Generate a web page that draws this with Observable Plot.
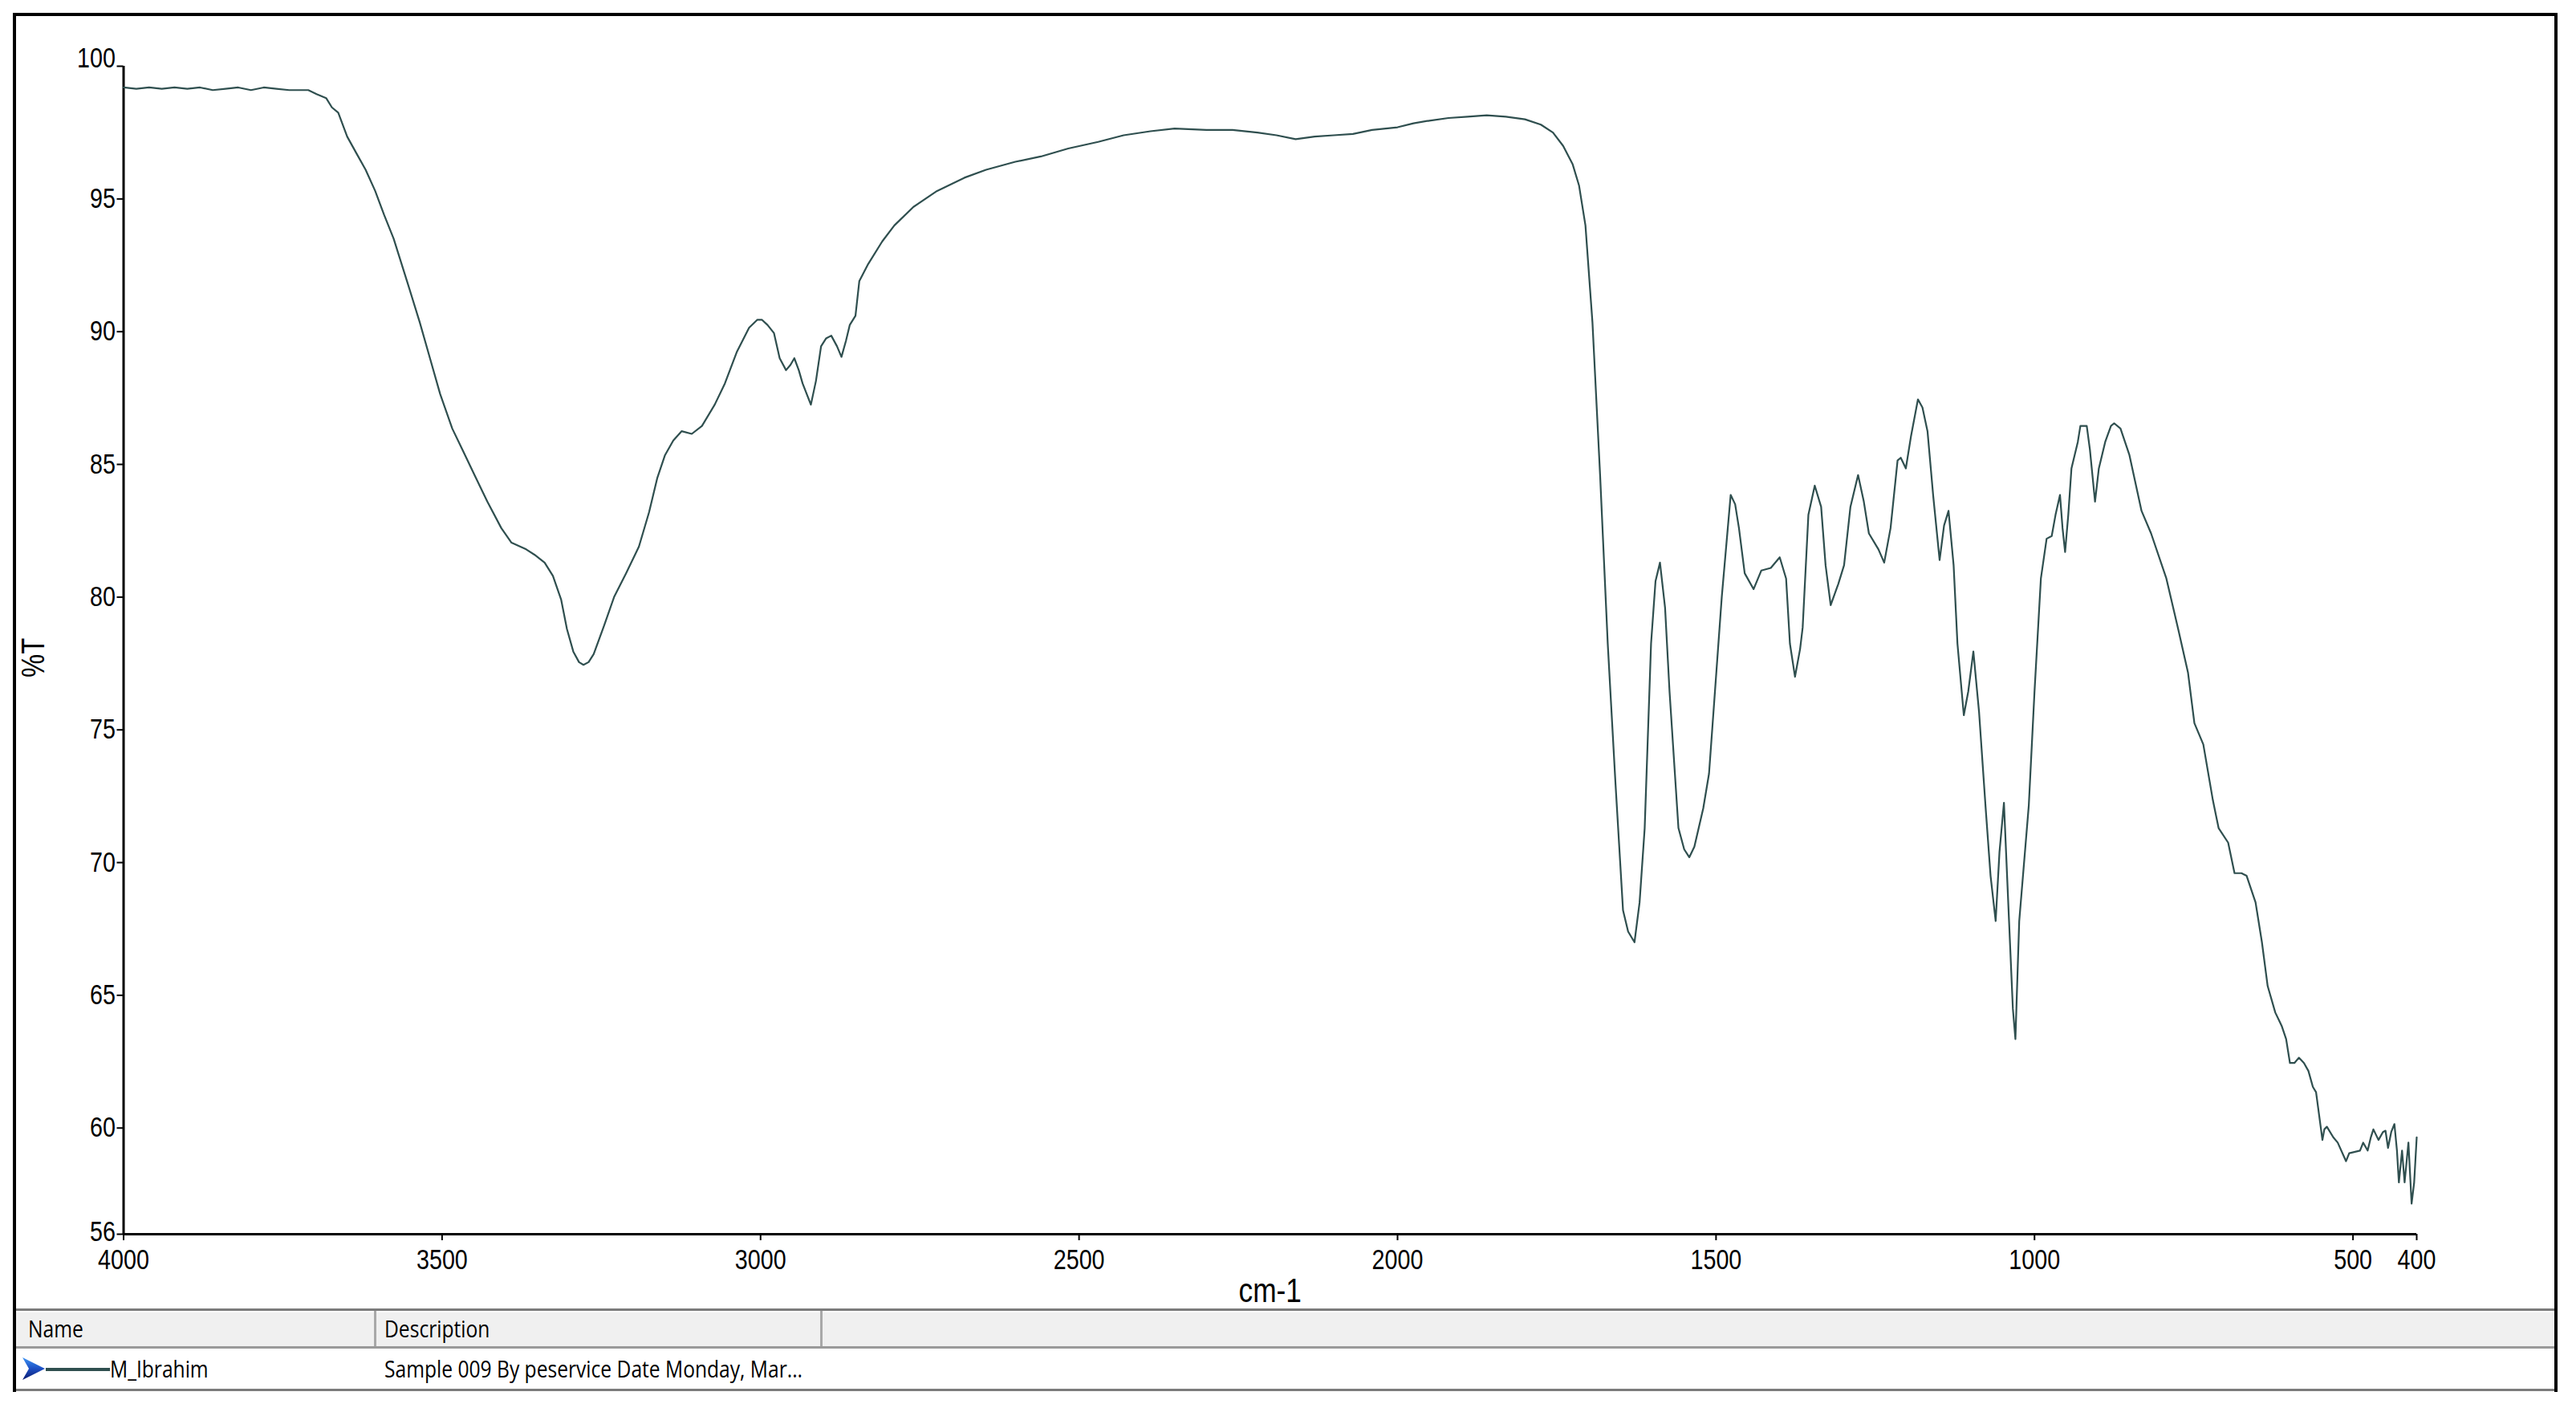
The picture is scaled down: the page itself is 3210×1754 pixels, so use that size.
<!DOCTYPE html>
<html>
<head>
<meta charset="utf-8">
<script src="https://cdn.jsdelivr.net/npm/d3@7"></script>
<script src="https://cdn.jsdelivr.net/npm/@observablehq/plot@0.6"></script>
<style>
  html, body { margin: 0; padding: 0; background: #fff; }
  body { width: 3210px; height: 1754px; position: relative; overflow: hidden; }
  #frame { position: absolute; left: 16px; top: 16px; width: 3171px; height: 1718px;
           border: 4px solid #000; border-bottom: none; box-sizing: border-box; }
  #chart { position: absolute; left: 0; top: 0; }
  #table { position: absolute; left: 0; top: 1610px; width: 3163px; font-family: "Open Sans", "Noto Sans", sans-serif; color: #000; }
  #hdr { position: relative; height: 50px; box-sizing: border-box; background: #f0f0f0;
         border-top: 3px solid #7c7c7c; border-bottom: 3px solid #9a9a9a; box-shadow: inset 0 2px 0 #fafafa; }
  #row { position: relative; height: 53px; box-sizing: border-box; background: #fff; border-bottom: 3px solid #7c7c7c; }
  .cell { position: absolute; top: 50%; font-size: 30px; white-space: nowrap;
          transform: translateY(-50%) scaleX(0.82); transform-origin: left center; line-height: 1; }
  .div { position: absolute; top: 0; bottom: 0; width: 3px; background: #a8a8a8; }
</style>
</head>
<body>
<div id="frame">
  <div id="chart"></div>
  <div id="table">
    <div id="hdr">
      <span class="cell" id="hName" style="left:15px"></span>
      <div class="div" style="left:446px"></div>
      <span class="cell" id="hDesc" style="left:459px"></span>
      <div class="div" style="left:1002px"></div>
    </div>
    <div id="row">
      <svg style="position:absolute;left:7px;top:10px" width="30" height="30" viewBox="0 0 30 30">
        <defs><linearGradient id="ag" x1="0" y1="0" x2="0" y2="1">
          <stop offset="0" stop-color="#3d93f2"/><stop offset="0.5" stop-color="#1c4fc4"/><stop offset="1" stop-color="#0b1a6e"/>
        </linearGradient></defs>
        <polygon points="1,1 29,15 1,29 9,15" fill="url(#ag)"/>
      </svg>
      <div style="position:absolute;left:37px;top:24px;width:80px;height:4px;background:#2f4f4f"></div>
      <span class="cell" id="rName" style="left:117px"></span>
      <span class="cell" id="rDesc" style="left:459px"></span>
    </div>
  </div>
</div>
<script>
// ---- data ----
const wavenumber = [
4000,3980,3960,3940,3920,3900,3880,3860,3840,3820,3800,3780,3760,3740,3720,3710,3697,3682,3673,3663,
3649,3634,3620,3605,3591,3576,3555,3535,3519,3503,3484,3468,3448,3429,3407,3391,3368,3355,3339,3326,
3313,3304,3294,3285,3278,3270,3262,3246,3230,3211,3191,3175,3162,3150,3137,3124,3108,3092,3072,3056,
3037,3018,3005,2998,2989,2979,2970,2960,2953,2947,2940,2934,2921,2913,2905,2897,2889,2880,2873,2866,
2860,2851,2845,2831,2809,2790,2760,2723,2680,2646,2600,2560,2517,2470,2430,2388,2350,2300,2259,2220,
2190,2160,2130,2100,2070,2040,2000,1975,1950,1920,1890,1860,1830,1800,1775,1756,1740,1725,1715,1705,
1694,1682,1670,1658,1646,1638,1628,1620,1612,1602,1595,1588,1580,1573,1559,1550,1542,1534,1520,1511,
1491,1477,1470,1464,1455,1441,1429,1414,1400,1390,1384,1376,1368,1364,1355,1345,1335,1328,1320,1308,
1299,1289,1277,1268,1260,1245,1236,1226,1215,1210,1202,1194,1183,1176,1168,1159,1149,1142,1135,1127,
1121,1111,1104,1096,1087,1077,1069,1061,1055,1048,1040,1034,1030,1024,1009,1000,990,981,973,967,
960,956,952,947,942,932,928,918,913,905,899,889,880,875,865,851,832,817,793,774,
759,749,735,720,711,696,686,675,667,653,643,634,622,612,605,599,592,585,577,570,
563,558,553,548,545,541,531,524,511,506,489,484,477,472,468,460,453,449,445,440,
435,431,428,423,419,413,408,404,400];
const transmittance = [
99.2,99.15,99.2,99.15,99.2,99.15,99.2,99.1,99.15,99.2,99.1,99.2,99.15,99.1,99.1,99.1,98.95,98.8,98.45,98.25,
97.35,96.7,96.1,95.3,94.4,93.5,91.9,90.35,89.0,87.65,86.35,85.55,84.55,83.6,82.6,82.05,81.8,81.6,81.3,80.8,
79.9,78.8,77.95,77.55,77.45,77.55,77.85,78.9,80.0,80.9,81.9,83.2,84.5,85.35,85.9,86.25,86.15,86.45,87.25,88.05,
89.25,90.15,90.45,90.45,90.25,89.95,89.0,88.55,88.75,89.0,88.55,88.05,87.25,88.15,89.45,89.75,89.85,89.45,89.05,89.65,
90.25,90.6,91.9,92.55,93.4,94.0,94.7,95.3,95.8,96.1,96.4,96.6,96.9,97.15,97.4,97.55,97.65,97.6,97.6,97.5,
97.4,97.25,97.35,97.4,97.45,97.6,97.7,97.85,97.95,98.05,98.1,98.15,98.1,98.0,97.8,97.5,97.0,96.3,95.5,94.0,
90.35,84.6,78.25,73.05,68.2,67.4,67.0,68.5,71.3,78.25,80.6,81.3,79.6,76.45,71.3,70.5,70.2,70.6,72.05,73.35,
80.0,83.85,83.5,82.6,80.9,80.3,81.0,81.1,81.5,80.7,78.25,77.0,78.05,78.85,83.1,84.2,83.4,81.2,79.7,80.5,
81.2,83.4,84.6,83.6,82.4,81.8,81.3,82.6,85.15,85.25,84.85,86.05,87.45,87.15,86.25,83.8,81.4,82.7,83.25,81.2,
78.25,75.55,76.45,77.95,75.65,72.15,69.5,67.8,70.4,72.25,67.8,64.5,63.35,67.8,72.15,76.45,80.7,82.2,82.3,83.1,
83.85,82.6,81.7,83.1,84.85,85.85,86.45,86.45,85.55,83.6,84.85,85.85,86.45,86.55,86.35,85.35,83.25,82.4,80.7,78.75,
77.15,75.25,74.45,72.35,71.3,70.75,69.6,69.6,69.5,68.5,67.0,65.35,64.35,63.85,63.35,62.45,62.45,62.65,62.45,62.15,
61.55,61.35,60.45,59.55,59.95,60.05,59.65,59.45,58.75,59.05,59.15,59.45,59.15,59.65,59.95,59.55,59.85,59.9,59.25,59.85,
60.15,59.15,57.95,59.15,57.95,59.45,57.15,57.95,59.65];
const xTicks = [4000, 3500, 3000, 2500, 2000, 1500, 1000, 500, 400];
const yTicks = [56, 60, 65, 70, 75, 80, 85, 90, 95, 100];
const xLabel = "cm-1";
const yLabel = "%T";
const tableHeader = ["Name", "Description"];
const seriesName = "M_Ibrahim";
const seriesDesc = "Sample 009 By peservice Date Monday, Mar...";

const spectrum = wavenumber.map((w, i) => ({ w, t: transmittance[i] }));
const yMax = d3.max(yTicks), yMin = d3.min(yTicks);

const chart = Plot.plot({
  width: 3163,
  height: 1610,
  marginLeft: 133.5,
  marginRight: 172,
  marginTop: 62,
  marginBottom: 93,
  style: { fontFamily: "'Liberation Sans', Arial, sans-serif", fontSize: "35px", color: "#000", background: "#fff", overflow: "visible" },
  x: { domain: [4000, 400] },
  y: { domain: [yMin, yMax] },
  marks: [
    Plot.axisX({ ticks: xTicks, tickSize: 8, tickPadding: 11, strokeWidth: 2, tickFormat: d => String(d), label: null }),
    // tick marks for every value; labels for all but the extremes
    Plot.axisY({ ticks: yTicks, tickSize: 8, tickPadding: 2, strokeWidth: 2,
                 tickFormat: d => (d === yMax || d === yMin) ? "" : String(d), label: null }),
    // top label sits just above its tick, bottom label nudged up
    Plot.axisY({ ticks: [yMax], tickSize: 0, tickPadding: 10, dy: -10, tickFormat: d => String(d), label: null }),
    Plot.axisY({ ticks: [yMin], tickSize: 0, tickPadding: 10, dy: -3, tickFormat: d => String(d), label: null }),
    Plot.ruleX([4000], { stroke: "#000", strokeWidth: 3 }),
    Plot.ruleY([yMin], { stroke: "#000", strokeWidth: 3 }),
    Plot.line(spectrum, { x: "w", y: "t", stroke: "#2f4f4f", strokeWidth: 2.2, strokeLinejoin: "round" }),
    Plot.text([xLabel], { frameAnchor: "bottom", dy: 84, fontSize: 43, fill: "#000" }),
    Plot.text([yLabel], { frameAnchor: "left", rotate: -90, dx: -112, dy: 34, fontSize: 40, fill: "#000" })
  ]
});
// condense text like Arial Narrow
chart.querySelectorAll("text").forEach(t => {
  const tr = t.getAttribute("transform");
  if (tr) t.setAttribute("transform", tr + " scale(0.82,1)");
});
document.getElementById("chart").appendChild(chart);
document.getElementById("hName").textContent = tableHeader[0];
document.getElementById("hDesc").textContent = tableHeader[1];
document.getElementById("rName").textContent = seriesName;
document.getElementById("rDesc").textContent = seriesDesc;
</script>
</body>
</html>
